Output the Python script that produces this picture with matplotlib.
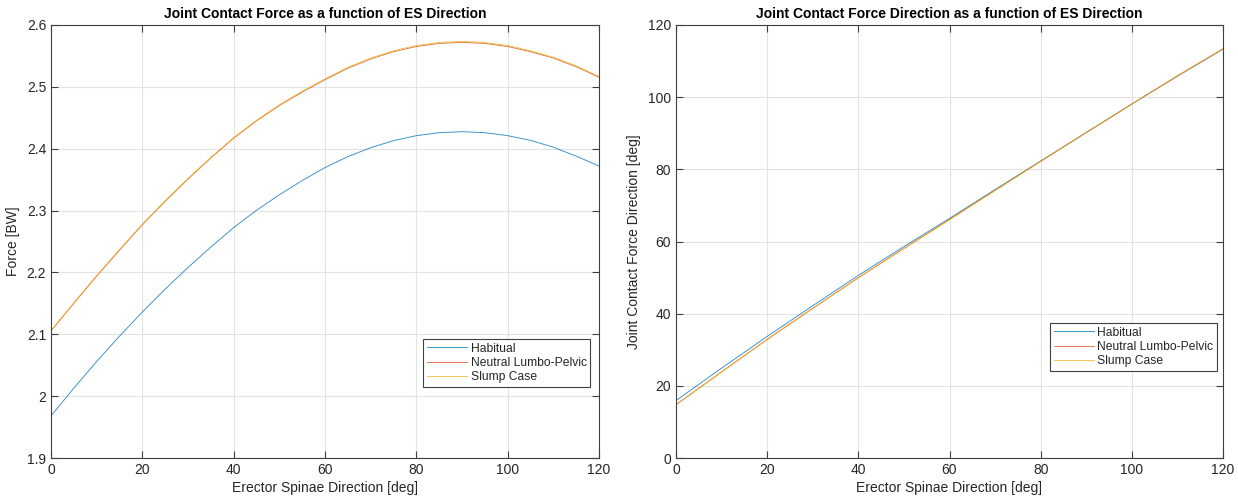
import matplotlib.pyplot as plt

# ES direction [deg]
es_dir = [0, 5, 10, 15, 20, 25, 30, 35, 40, 45, 50, 55, 60,
          65, 70, 75, 80, 85, 90, 95, 100, 105, 110, 115, 120]

# joint contact force [BW]
force_habitual = [1.968, 2.013, 2.056, 2.097, 2.136, 2.173, 2.208, 2.241, 2.2725, 2.3005, 2.3255, 2.3485, 2.3695,
                  2.3872, 2.4017, 2.4130, 2.4211, 2.4259, 2.4275, 2.4259, 2.4211, 2.4135, 2.4025, 2.388, 2.372]
force_neutral = [2.1055, 2.150, 2.194, 2.236, 2.277, 2.315, 2.351, 2.385, 2.417, 2.445, 2.4698, 2.4915, 2.5115,
                 2.530, 2.545, 2.5568, 2.5652, 2.5702, 2.5719, 2.5702, 2.5652, 2.5568, 2.5465, 2.5325, 2.5155]
force_slump = [2.106, 2.151, 2.195, 2.237, 2.278, 2.316, 2.352, 2.386, 2.418, 2.446, 2.471, 2.493, 2.513,
               2.5315, 2.5466, 2.5584, 2.5668, 2.5718, 2.5735, 2.5718, 2.5668, 2.5584, 2.548, 2.534, 2.517]

# joint contact force direction [deg], every 10 deg of ES direction
es_dir_10 = [0, 10, 20, 30, 40, 50, 60, 70, 80, 90, 100, 110, 120]
dir_habitual = [15.9, 24.9, 33.7, 42.2, 50.6, 58.6, 66.4, 74.4, 82.3, 90.2, 98.1, 105.8, 113.3]
dir_neutral = [14.8, 23.9, 32.9, 41.5, 50.0, 58.1, 66.1, 74.2, 82.2, 90.2, 98.1, 105.9, 113.4]
dir_slump = [14.7, 23.8, 32.8, 41.4, 49.9, 58.0, 66.0, 74.1, 82.2, 90.2, 98.1, 105.9, 113.4]

labels = ['Habitual', 'Neutral Lumbo-Pelvic', 'Slump Case']
colors = ['#0072BD', '#D95319', '#EDB120']

plt.rcParams['font.family'] = ['Liberation Sans', 'DejaVu Sans']

fig = plt.figure(figsize=(12.38, 4.99), dpi=100)
ax1 = fig.add_axes([51 / 1238, 41 / 499, 548 / 1238, 433 / 499])
ax2 = fig.add_axes([676 / 1238, 41 / 499, 547 / 1238, 433 / 499])


def style_axes(ax):
    for s in ax.spines.values():
        s.set_color('#404040')
        s.set_linewidth(0.8)
    ax.tick_params(direction='in', top=True, right=True, length=5, width=0.8,
                   colors='#404040', labelsize=10, labelcolor='#262626')
    ax.grid(True, color='#e3e3e3', linewidth=0.8)
    ax.set_axisbelow(True)


def add_legend(ax, anchor):
    leg = ax.legend(loc='lower right', bbox_to_anchor=anchor, fontsize=8.7,
                    fancybox=False, edgecolor='#404040', framealpha=1,
                    handlelength=3.3, borderpad=0.3, labelspacing=0.2,
                    handletextpad=0.3, borderaxespad=0)
    leg.get_frame().set_linewidth(0.8)
    for t in leg.get_texts():
        t.set_color('#262626')


for ys, lab, c in zip([force_habitual, force_neutral, force_slump], labels, colors):
    ax1.plot(es_dir, ys, color=c, lw=0.65, alpha=0.8, label=lab)
ax1.set_xlim(0, 120)
ax1.set_ylim(1.9, 2.6)
ax1.set_xticks(range(0, 121, 20))
ax1.set_yticks([1.9, 2.0, 2.1, 2.2, 2.3, 2.4, 2.5, 2.6])
ax1.set_yticklabels(['1.9', '2', '2.1', '2.2', '2.3', '2.4', '2.5', '2.6'])
ax1.set_xlabel('Erector Spinae Direction [deg]', fontsize=10, color='#262626', labelpad=3)
ax1.set_ylabel('Force [BW]', fontsize=10, color='#262626', labelpad=5)
ax1.set_title('Joint Contact Force as a function of ES Direction', fontsize=10,
              fontweight='bold', pad=5)
style_axes(ax1)
add_legend(ax1, (0.984, 0.164))

for ys, lab, c in zip([dir_habitual, dir_neutral, dir_slump], labels, colors):
    ax2.plot(es_dir_10, ys, color=c, lw=0.65, alpha=0.8, label=lab)
ax2.set_xlim(0, 120)
ax2.set_ylim(0, 120)
ax2.set_xticks(range(0, 121, 20))
ax2.set_yticks(range(0, 121, 20))
ax2.set_xlabel('Erector Spinae Direction [deg]', fontsize=10, color='#262626', labelpad=3)
ax2.set_ylabel('Joint Contact Force Direction [deg]', fontsize=10, color='#262626', labelpad=5)
ax2.set_title('Joint Contact Force Direction as a function of ES Direction', fontsize=10,
              fontweight='bold', pad=5)
style_axes(ax2)
add_legend(ax2, (0.989, 0.201))

fig.savefig('out.png', dpi=100)
